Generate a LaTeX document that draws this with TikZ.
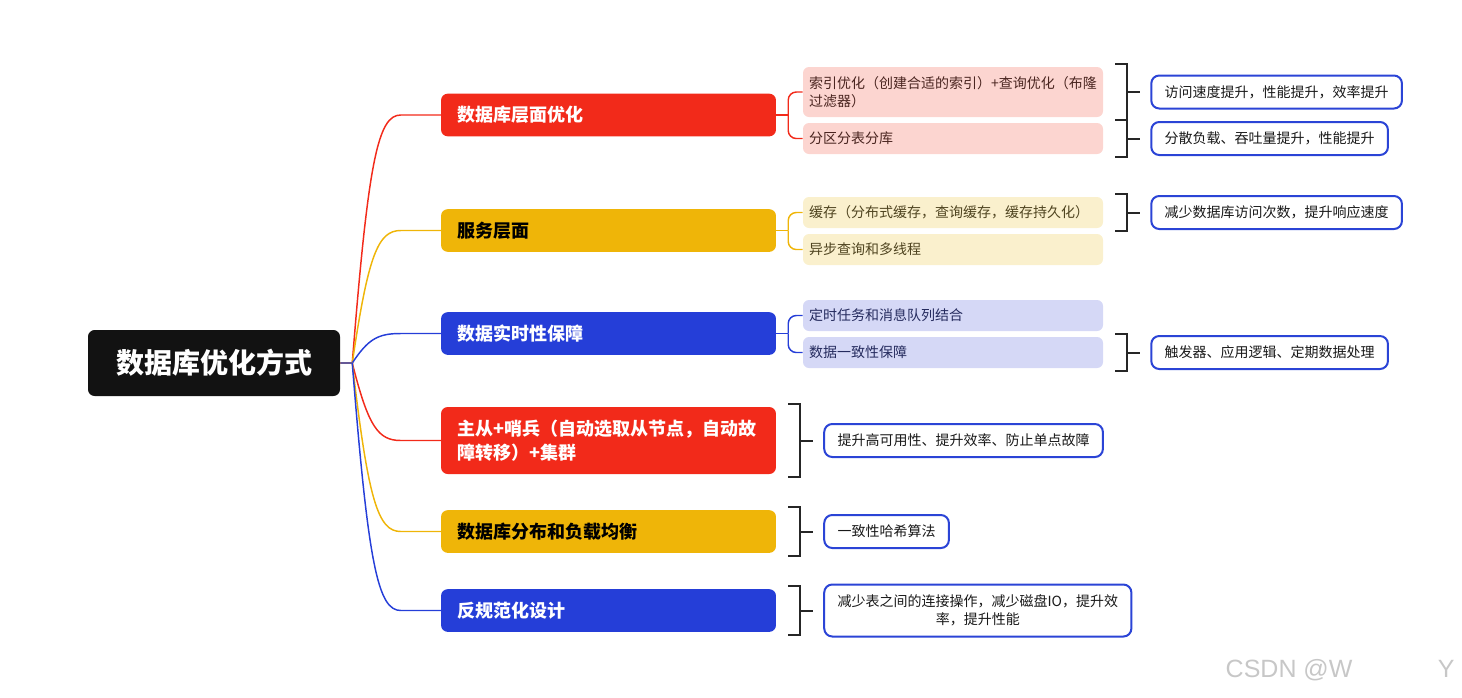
\documentclass[tikz,border=0pt]{standalone}
\usepackage{fontspec}
\setmainfont{Noto Sans CJK SC}
\newfontfamily\markfont{Liberation Sans}
\usetikzlibrary{calc,positioning}
\definecolor{mred}{HTML}{F22A1A}
\definecolor{myellow}{HTML}{EFB508}
\definecolor{mblue}{HTML}{253ED8}
\definecolor{sred}{HTML}{FCD5D0}
\definecolor{syellow}{HTML}{FAF0CD}
\definecolor{sblue}{HTML}{D5D8F6}
\definecolor{tred}{HTML}{4A2520}
\definecolor{tyellow}{HTML}{4F4420}
\definecolor{tblue}{HTML}{252B5E}
\definecolor{nblue}{HTML}{2B44D6}
\tikzset{main box/.style={rounded corners=5pt, minimum height=32pt, text width=226pt, inner xsep=12.6pt, align=left, font=\bfseries\fontsize{13.5}{18}\selectfont},
  sub box/.style={rounded corners=4.5pt, minimum height=23.25pt, text width=216pt, inner xsep=4.5pt, align=left, font=\fontsize{10.5}{13.5}\selectfont},
  note box/.style={draw=nblue, line width=1.5pt, fill=white, rounded corners=6pt, minimum height=24.75pt, inner xsep=10pt, align=center, text=black!90, font=\fontsize{10.5}{13.5}\selectfont},
  brace line/.style={draw=black!85, line width=1.5pt},
  link/.style={line width=1.1pt}}
% square brace behind a node, with a tick towards its note
\newcommand\notebrace[2]{%
  \draw[brace line] ($(#1.north east)+(12,-3)$) -- ++(12,0) |- ($(#1.south east)+(12,3)$);
  \draw[brace line] ($(#1.east)+(24,0)$) -- ($(#2.west)+(-10,0)$);}

\begin{document}
\begin{tikzpicture}[x=0.75pt, y=-0.75pt]
\useasboundingbox (0,0) rectangle (1462,697);

\node[fill=black!93, rounded corners=5pt, minimum width=189pt, minimum height=49.5pt, text=white, font=\bfseries\fontsize{21}{25}\selectfont] (root) at (214,363) {数据库优化方式};

%\draw (root) -- (b1);
\node[main box, fill=mred, text=white] (b1) at (608.5,115) {数据库层面优化};
\node[main box, fill=myellow, text=black] (b2) at (608.5,230.5) {服务层面};
\node[main box, fill=mblue, text=white] (b3) at (608.5,333.5) {数据实时性保障};
\node[main box, fill=mred, text=white, minimum height=50.25pt] (b4) at (608.5,440.5) {主从+哨兵（自动选取从节点，自动故\\障转移）+集群};
\node[main box, fill=myellow, text=black] (b5) at (608.5,531.5) {数据库分布和负载均衡};
\node[main box, fill=mblue, text=white] (b6) at (608.5,610.5) {反规范化设计};

\node[sub box, fill=sred, text=tred, minimum height=37.5pt] (s11) at (953,92) {索引优化（创建合适的索引）+查询优化（布隆\\过滤器）};
\node[sub box, fill=sred, text=tred] (s12) at (953,138.5) {分区分表分库};
\node[sub box, fill=syellow, text=tyellow] (s21) at (953,212.5) {缓存（分布式缓存，查询缓存，缓存持久化）};
\node[sub box, fill=syellow, text=tyellow] (s22) at (953,249.5) {异步查询和多线程};
\node[sub box, fill=sblue, text=tblue] (s31) at (953,315.5) {定时任务和消息队列结合};
\node[sub box, fill=sblue, text=tblue] (s32) at (953,352.5) {数据一致性保障};

\node[note box, right=35.25pt of s11] (n11) {访问速度提升，性能提升，效率提升};
\node[note box, right=35.25pt of s12] (n12) {分散负载、吞吐量提升，性能提升};
\node[note box, right=35.25pt of s21] (n21) {减少数据库访问次数，提升响应速度};
\node[note box, right=35.25pt of s32] (n32) {触发器、应用逻辑、定期数据处理};
\node[note box, right=35.25pt of b4] (n4) {提升高可用性、提升效率、防止单点故障};
\node[note box, right=35.25pt of b5] (n5) {一致性哈希算法};
\node[note box, right=35.25pt of b6, minimum height=39pt] (n6) {减少表之间的连接操作，减少磁盘IO，提升效\\率，提升性能};

% branches out of the root
\coordinate (hub) at ($(root.east)+(12,0)$);
\foreach \b/\c in {b1/mred, b2/myellow, b3/mblue, b4/mred, b5/myellow, b6/mblue}
  \draw[link, draw=\c] let \p1 = (hub), \p2 = ($(\b.west)+(-40,0)$) in
    (root.east) -- (hub) .. controls (\x1+12pt, {\y1+0.82*(\y2-\y1)}) and (\x2-17pt, \y2) .. (\p2) -- (\b.west);

% forks to the sub nodes
\foreach \b/\c/\s/\t in {b1/mred/s11/s12, b2/myellow/s21/s22, b3/mblue/s31/s32} {
  \draw[link, draw=\c] (\b.east) -- ++(12,0) coordinate (f\b);
  \draw[link, draw=\c, rounded corners=6pt] (f\b) |- (\s.west);
  \draw[link, draw=\c, rounded corners=6pt] (f\b) |- (\t.west);
}

\notebrace{s11}{n11}
\notebrace{s12}{n12}
\notebrace{s21}{n21}
\notebrace{s32}{n32}
\notebrace{b4}{n4}
\notebrace{b5}{n5}
\notebrace{b6}{n6}

\node[anchor=west, text=black!22, font=\markfont\fontsize{18.75}{20}\selectfont] (mark) at (1221,670) {CSDN @W\hspace{64pt}Y};
\end{tikzpicture}
\end{document}
